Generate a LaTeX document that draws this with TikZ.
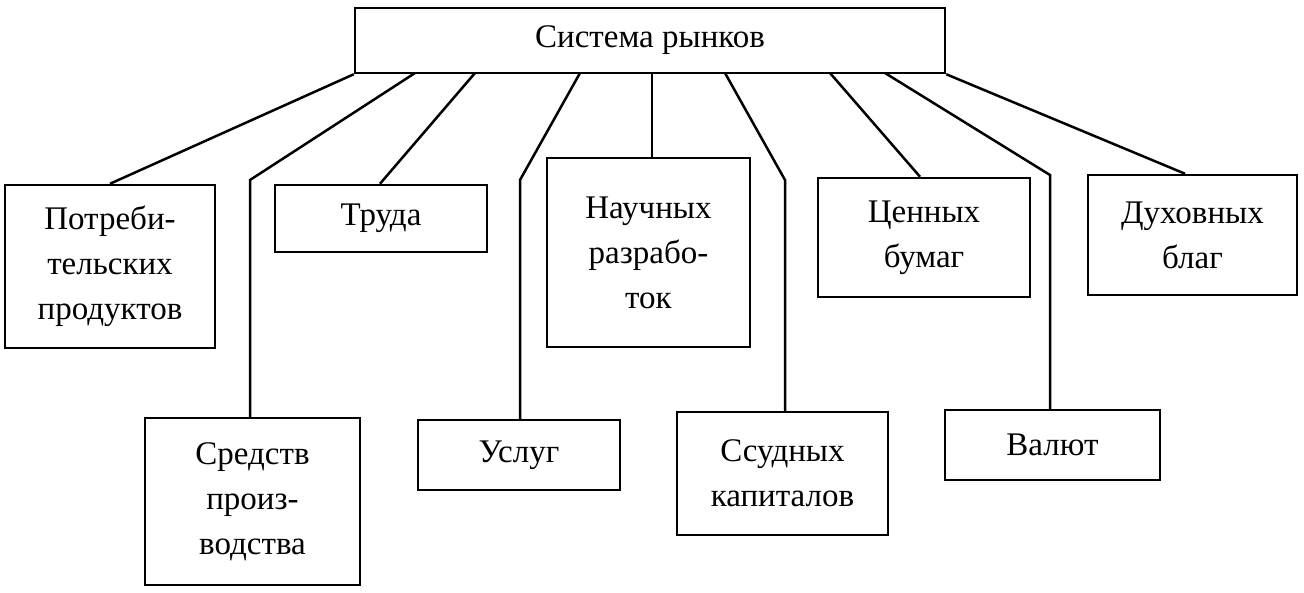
\documentclass[tikz,border=0pt]{standalone}
\usepackage{fontspec}
\setmainfont{Liberation Serif}
\begin{document}
\begin{tikzpicture}[x=1pt,y=-1pt,line width=2.5pt,
 bx/.style={draw,rectangle,align=center,font=\fontsize{33}{45}\selectfont,inner sep=0pt}]
\useasboundingbox (0,0) rectangle (1304,592);
\newcommand{\bxat}[6]{\node[bx,minimum width=#4-#2,minimum height=#5-#3] (#1) at ({(#2+#4)/2},{(#3+#5)/2}) {#6};}
\bxat{top}{355}{8}{945}{73}{Система рынков}
\bxat{a}{5}{185}{215}{348}{Потреби-\\тельских\\продуктов}
\bxat{b}{275}{185}{487}{252}{Труда}
\bxat{c}{547}{158}{750}{347}{Научных\\разрабо-\\ток}
\bxat{d}{818}{178}{1030}{297}{Ценных\\бумаг}
\bxat{e}{1088}{175}{1297}{295}{Духовных\\благ}
\bxat{f}{145}{418}{360}{585}{Средств\\произ-\\водства}
\bxat{g}{418}{420}{620}{490}{Услуг}
\bxat{h}{677}{412}{888}{535}{Ссудных\\капиталов}
\bxat{i}{945}{410}{1160}{480}{Валют}
\draw (top.south west) -- (a.north west -| 110,0);
\draw (415,73) -- (250,180) -- (f.north -| 250,0);
\draw (475,73) -- (b.north -| 380,0);
\draw (580,73) -- (520,180) -- (g.north -| 520,0);
\draw (652,73) -- (c.north -| 652,0);
\draw (725,73) -- (785,180) -- (h.north -| 785,0);
\draw (830,73) -- (d.north -| 920,0);
\draw (885,73) -- (1050,175) -- (i.north -| 1050,0);
\draw (top.south east) -- (e.north -| 1185,0);
\end{tikzpicture}
\end{document}
